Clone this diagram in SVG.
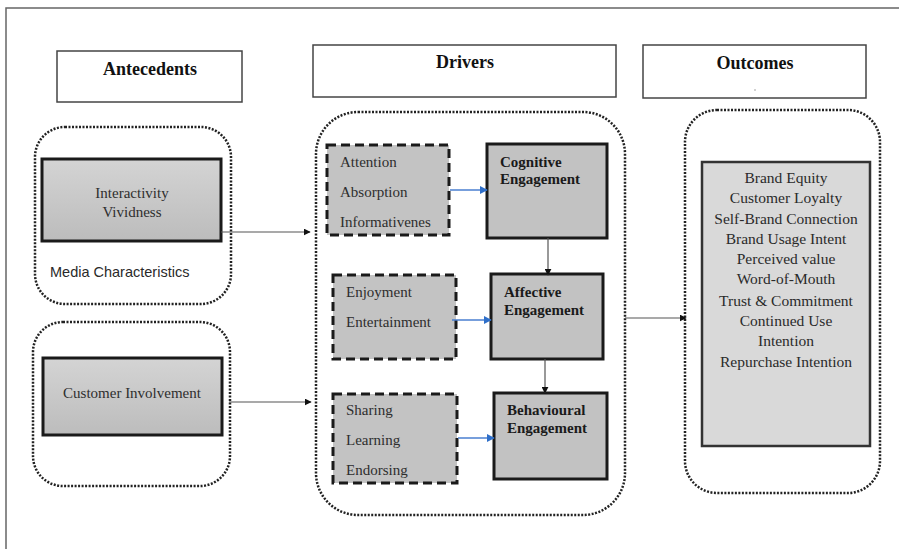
<svg xmlns="http://www.w3.org/2000/svg" width="899" height="549" viewBox="0 0 899 549">
<style>
.hdr{fill:#fff;stroke:#444;stroke-width:1.5}
.ht{font-family:"Liberation Serif",serif;font-size:18px;font-weight:bold;fill:#111;text-anchor:middle}
.dot{fill:#fff;stroke:#222;stroke-width:2.5;stroke-dasharray:2 1.5}
.solid{stroke:#1a1a1a;stroke-width:3}
.dash{fill:#c3c3c3;stroke:#1a1a1a;stroke-width:3;stroke-dasharray:9 5}
.eng{fill:#c2c2c2;stroke:#1a1a1a;stroke-width:3}
.t{font-family:"Liberation Serif",serif;font-size:15px;fill:#2e2e2e}
.tb{font-family:"Liberation Serif",serif;font-size:15px;font-weight:bold;fill:#1a1a1a}
.tc{font-family:"Liberation Serif",serif;font-size:15.5px;fill:#2a2a2a;text-anchor:middle}
.conn{stroke:#555;stroke-width:1.2;fill:none}
.blue{stroke:#4a7fd0;stroke-width:1.5;fill:none}
</style>
<defs>
<linearGradient id="g1" x1="0" y1="0" x2="0" y2="1">
<stop offset="0" stop-color="#d4d4d4"/>
<stop offset="1" stop-color="#bcbcbc"/>
</linearGradient>
<marker id="ab" viewBox="0 0 10 10" refX="9" refY="5" markerWidth="7" markerHeight="7" orient="auto" markerUnits="userSpaceOnUse"><path d="M0,0 L10,5 L0,10 z" fill="#111"/></marker>
<marker id="abl" viewBox="0 0 10 10" refX="9" refY="5" markerWidth="8" markerHeight="8" orient="auto" markerUnits="userSpaceOnUse"><path d="M0,0 L10,5 L0,10 z" fill="#2f6fc9"/></marker>
</defs>
<rect width="899" height="549" fill="#fff"/>
<path d="M6,549 V8 H899" fill="none" stroke="#666" stroke-width="1.5"/>

<g id="antecedents-header"><rect class="hdr" x="57" y="51" width="185" height="51"/><text class="ht" x="150" y="75">Antecedents</text></g>
<g id="drivers-header"><rect class="hdr" x="313" y="45" width="303" height="52"/><text class="ht" x="465" y="68">Drivers</text></g>
<g id="outcomes-header"><rect class="hdr" x="643" y="45" width="223" height="53"/><text class="ht" x="755" y="69">Outcomes</text><circle cx="755" cy="90" r="0.8" fill="#999"/></g>

<g id="media-characteristics">
<rect class="dot" x="35" y="127" width="196" height="177" rx="30"/>
<rect class="solid" x="42" y="159" width="179" height="82" fill="url(#g1)"/>
<text class="t" x="132" y="198" text-anchor="middle">Interactivity</text>
<text class="t" x="132" y="217" text-anchor="middle">Vividness</text>
<text x="50" y="277" font-family="Liberation Sans,sans-serif" font-size="14.5" fill="#2a2a2a">Media Characteristics</text>
</g>

<g id="customer-involvement">
<rect class="dot" x="33" y="322" width="197" height="164" rx="30"/>
<rect class="solid" x="43" y="358" width="179" height="77" fill="url(#g1)"/>
<text class="t" x="132" y="398" text-anchor="middle">Customer Involvement</text>
</g>

<g id="drivers">
<rect class="dot" x="316" y="112" width="309" height="403" rx="42"/>
</g>

<g id="cognitive-drivers">
<rect class="dash" x="327" y="145" width="122" height="90"/>
<text class="t" x="340" y="167">Attention</text>
<text class="t" x="340" y="197">Absorption</text>
<text class="t" x="340" y="227">Informativenes</text>
</g>
<g id="cognitive-engagement">
<rect class="eng" x="487" y="144" width="120" height="94"/>
<text class="tb" x="500" y="167">Cognitive</text>
<text class="tb" x="500" y="184">Engagement</text>
</g>

<g id="affective-drivers">
<rect class="dash" x="333" y="275" width="123" height="84"/>
<text class="t" x="346" y="297">Enjoyment</text>
<text class="t" x="346" y="327">Entertainment</text>
</g>
<g id="affective-engagement">
<rect class="eng" x="491" y="274" width="112" height="85"/>
<text class="tb" x="504" y="297">Affective</text>
<text class="tb" x="504" y="315">Engagement</text>
</g>

<g id="behavioural-drivers">
<rect class="dash" x="333" y="394" width="124" height="89"/>
<text class="t" x="346" y="415">Sharing</text>
<text class="t" x="346" y="445">Learning</text>
<text class="t" x="346" y="475">Endorsing</text>
</g>
<g id="behavioural-engagement">
<rect class="eng" x="494" y="393" width="113" height="86"/>
<text class="tb" x="507" y="415">Behavioural</text>
<text class="tb" x="507" y="433">Engagement</text>
</g>

<g id="outcomes">
<rect class="dot" x="685" y="110" width="195" height="383" rx="32"/>
<rect x="702" y="162" width="168" height="284" fill="#d9d9d9" stroke="#333" stroke-width="2.5"/>
<text class="tc" x="786" y="183">Brand Equity</text>
<text class="tc" x="786" y="203">Customer Loyalty</text>
<text class="tc" x="786" y="224">Self-Brand Connection</text>
<text class="tc" x="786" y="244">Brand Usage Intent</text>
<text class="tc" x="786" y="264">Perceived value</text>
<text class="tc" x="786" y="284">Word-of-Mouth</text>
<text class="tc" x="786" y="306">Trust &amp; Commitment</text>
<text class="tc" x="786" y="326">Continued Use</text>
<text class="tc" x="786" y="346">Intention</text>
<text class="tc" x="786" y="367">Repurchase Intention</text>
</g>

<g id="connectors">
<line class="conn" x1="221" y1="232" x2="310" y2="232" marker-end="url(#ab)"/>
<line class="conn" x1="229" y1="402" x2="311" y2="402" marker-end="url(#ab)"/>
<line class="blue" x1="450" y1="190" x2="487" y2="190" marker-end="url(#abl)"/>
<line class="blue" x1="452" y1="320" x2="491" y2="320" marker-end="url(#abl)"/>
<line class="blue" x1="458" y1="438" x2="494" y2="438" marker-end="url(#abl)"/>
<line class="conn" x1="548" y1="238" x2="548" y2="275" marker-end="url(#ab)"/>
<line class="conn" x1="545" y1="359" x2="545" y2="393" marker-end="url(#ab)"/>
<line class="conn" x1="625" y1="318" x2="686" y2="318" marker-end="url(#ab)"/>
</g>
</svg>
